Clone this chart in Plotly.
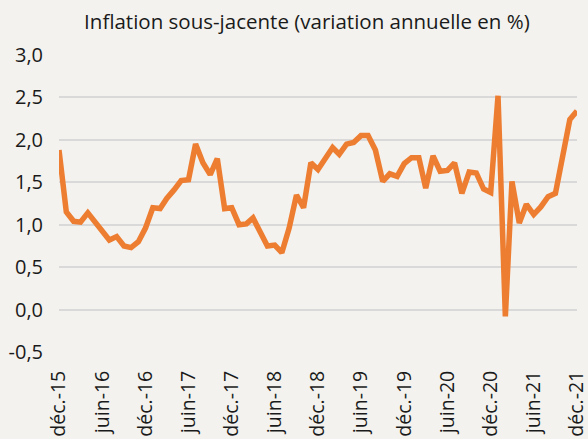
import pandas as pd
import plotly.graph_objects as go

# Monthly core inflation, déc. 2015 -> déc. 2021 (annual % change)
months = pd.date_range("2015-12-01", "2021-12-01", freq="MS")
inflation = [
    1.88, 1.15, 1.04, 1.03, 1.14, 1.03, 0.92, 0.82, 0.86, 0.75, 0.73, 0.80,
    0.96, 1.20, 1.19, 1.31, 1.41, 1.52, 1.53, 1.95, 1.73, 1.59, 1.78, 1.19,
    1.20, 1.00, 1.01, 1.08, 0.91, 0.75, 0.76, 0.67, 0.96, 1.35, 1.20, 1.73,
    1.65, 1.77, 1.91, 1.83, 1.95, 1.97, 2.05, 2.05, 1.88, 1.51, 1.60, 1.57,
    1.72, 1.79, 1.79, 1.43, 1.81, 1.63, 1.64, 1.73, 1.37, 1.62, 1.61, 1.42,
    1.38, 2.52, -0.08, 1.51, 1.02, 1.24, 1.12, 1.21, 1.33, 1.37, 1.76, 2.24,
    2.34,
]

x_tick_dates = pd.date_range("2015-12-01", "2021-12-01", freq="6MS")
x_tick_labels = [
    "déc.-15", "juin-16", "déc.-16", "juin-17", "déc.-17", "juin-18", "déc.-18",
    "juin-19", "déc.-19", "juin-20", "déc.-20", "juin-21", "déc.-21",
]
y_ticks = [-0.5, 0.0, 0.5, 1.0, 1.5, 2.0, 2.5, 3.0]
y_tick_labels = [f"{v:.1f}".replace(".", ",") for v in y_ticks]

title_text = "Inflation sous-jacente (variation annuelle en %)"

BG = "#f3f2ee"
GRID = "#d9d9d9"
ORANGE = "#ed7d31"
FONT = "Open Sans"
TXT = "#1a1a1a"

fig = go.Figure()
fig.add_trace(go.Scatter(
    x=months, y=inflation, mode="lines",
    line=dict(color=ORANGE, width=5.5),
    hoverinfo="skip", showlegend=False,
))

y_min, y_max = -0.5, 3.0
x_range = [months[0], months[-1] + pd.Timedelta(hours=6)]

fig.update_layout(
    width=588, height=439,
    paper_bgcolor=BG, plot_bgcolor=BG,
    margin=dict(l=59, r=11, t=55, b=87, autoexpand=False),
    font=dict(family=FONT, size=19, color=TXT),
    title=dict(
        text=title_text, x=0.522, xref="container", xanchor="center",
        y=1 - 22 / 439, yref="container", yanchor="middle",
        font=dict(family=FONT, size=20.5, color=TXT),
    ),
    xaxis=dict(
        range=x_range, tickmode="array", tickvals=x_tick_dates,
        ticktext=x_tick_labels, tickangle=-90, showgrid=False,
        ticks="outside", ticklen=10, tickcolor="rgba(0,0,0,0)",
        showline=False, zeroline=False, automargin=False,
        ticklabeloverflow="allow",
        tickfont=dict(family=FONT, size=19.5, color=TXT),
    ),
    xaxis2=dict(
        overlaying="x", anchor="free",
        position=(0 - y_min) / (y_max - y_min),
        range=x_range, tick0="2015-12-01", dtick="M3",
        ticks="outside", ticklen=6, tickwidth=2, tickcolor=GRID,
        showticklabels=False, showgrid=False, automargin=False,
        showline=True, linecolor=GRID, linewidth=2, zeroline=False,
    ),
    yaxis=dict(
        range=[y_min, y_max], tickmode="array", tickvals=y_ticks,
        ticktext=y_tick_labels, showgrid=True, gridcolor=GRID, gridwidth=2,
        zeroline=False, showline=False, automargin=False,
        ticks="outside", ticklen=11, tickcolor="rgba(0,0,0,0)",
        tickfont=dict(family=FONT, size=20, color=TXT),
    ),
)

fig.write_html(
    "out.html",
    config={"displayModeBar": False},
    post_script="document.body.style.margin='0px';document.body.style.overflow='hidden';",
)
